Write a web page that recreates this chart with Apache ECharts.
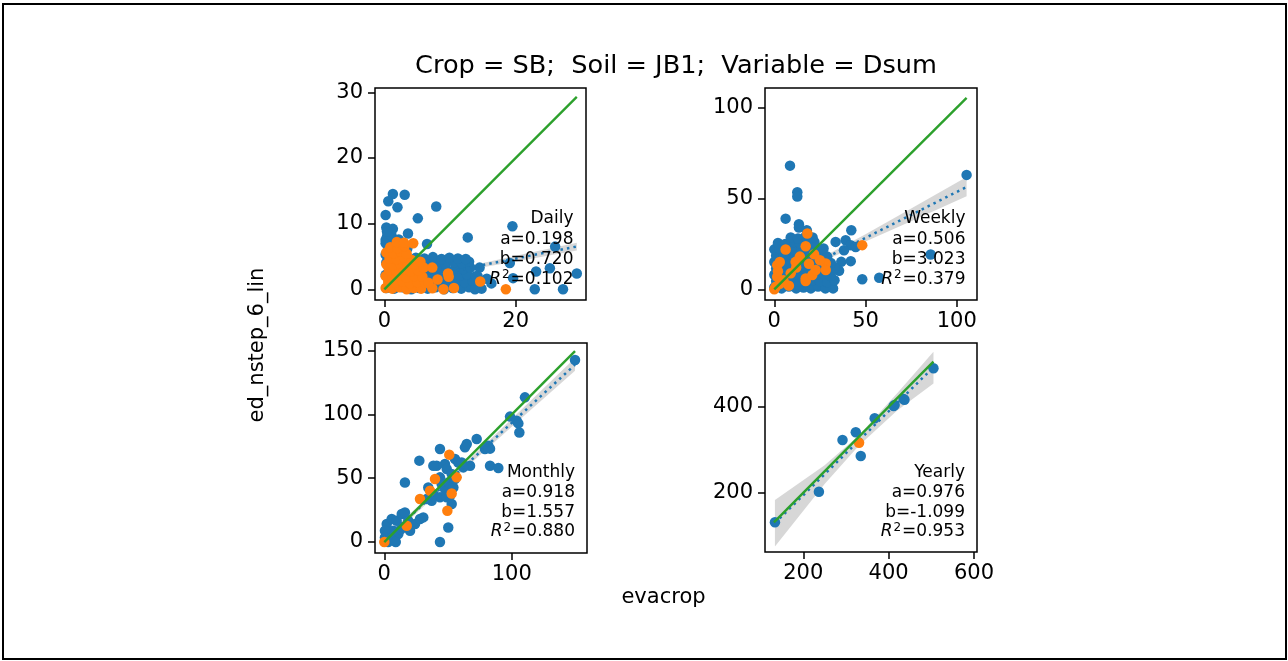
<!DOCTYPE html>
<html>
<head>
<meta charset="utf-8">
<script src="https://cdn.jsdelivr.net/npm/echarts@6/dist/echarts.min.js"></script>
<style>html,body{margin:0;padding:0;background:#fff;}#c{width:1288px;height:661px;}</style>
</head>
<body>
<div id="c"></div>
<script>
// ---------------- DATA ----------------
const panelNames = ['Daily', 'Weekly', 'Monthly', 'Yearly'];
const fitA = [0.198, 0.506, 0.918, 0.976];
const fitB = [0.720, 3.023, 1.557, -1.099];
const fitR2 = [0.102, 0.379, 0.880, 0.953];

const xTicks = [[0, 20], [0, 50, 100], [0, 100], [200, 400, 600]];
const yTicks = [[0, 10, 20, 30], [0, 50, 100], [0, 50, 100, 150], [200, 400]];

const dailyBlue = [
  [1.3,14.5],[3.1,14.4],[0.6,13.4],[2.0,12.5],[7.9,12.6],[0.2,11.3],[5.1,10.8],[0.3,9.4],[1.3,9.2],[3.6,8.5],
  [19.5,9.6],[12.7,7.9],[26.0,6.5],[19.1,4.0],[23.1,2.7],[25.2,3.2],[29.3,2.4],[27.2,0.0],[22.9,0.0],[19.6,1.7],
  [16.3,0.9],[14.8,0.1],[15.6,1.6],[6.5,6.9],[0.4,8.0],[0.2,7.0],[1.0,7.8],[14.5,3.3],[14.2,2.0],
  [0.3,0.2],[1.5,0.1],[2.8,0.3],[4.1,0.0],[5.3,0.2],[6.6,0.1],[7.8,0.3],[9.1,0.0],[10.4,0.2],[11.7,0.1],[12.9,0.3],[13.8,0.0],
  [0.8,1.2],[2.1,1.1],[3.3,1.3],[4.6,1.0],[5.9,1.2],[7.2,1.1],[8.5,1.3],[9.7,1.0],[11.0,1.2],[12.2,1.1],[13.4,1.3],
  [0.2,2.2],[1.4,2.1],[2.7,2.3],[4.0,2.0],[5.2,2.2],[6.4,2.1],[7.7,2.3],[8.9,2.0],[10.2,2.2],[11.5,2.1],[12.6,2.3],[13.9,2.0],
  [0.7,3.2],[2.0,3.1],[3.2,3.3],[4.5,3.0],[5.8,3.2],[7.0,3.1],[8.3,3.3],[9.5,3.0],[10.8,3.2],[12.0,3.1],[13.1,3.3],
  [0.3,4.1],[1.6,4.0],[2.8,4.2],[4.2,3.9],[5.5,4.1],[6.8,4.0],[8.0,4.2],[9.3,3.9],[10.6,4.1],[11.8,4.0],[12.9,4.2],
  [4.8,4.8],[6.1,4.7],[7.4,4.9],[8.7,4.6],[9.9,4.8],[11.2,4.7],[12.4,4.6],
  [0.2,5.3],[1.3,5.8],[0.6,6.4],[1.8,6.9],[0.2,7.5],[1.1,8.2],[0.4,8.8],[2.6,5.6],[3.5,6.2],[2.2,7.6]
];
const dailyOrange = [
  [0.2,0.2],[1.2,0.1],[2.3,0.3],[3.4,0.0],[4.5,0.2],[5.6,0.1],
  [0.6,1.1],[1.7,1.0],[2.8,1.2],[3.9,0.9],[5.0,1.1],[6.2,1.0],
  [0.2,2.0],[1.2,1.9],[2.3,2.1],[3.4,1.8],[4.6,2.0],[5.8,1.9],
  [0.7,2.9],[1.8,2.8],[2.9,3.0],[4.0,2.7],[5.1,2.9],
  [0.3,3.8],[1.3,3.7],[2.4,3.9],[3.5,3.6],[4.6,3.8],
  [0.8,4.7],[1.9,4.6],[3.0,4.8],[4.1,4.5],
  [0.3,5.6],[1.4,5.5],[2.5,5.7],[3.4,5.4],
  [0.9,6.4],[2.0,6.3],[3.1,6.6],
  [1.9,7.2],[4.4,7.0],[3.0,7.1],
  [6.0,3.3],[7.3,3.3],[8.1,1.5],[9.8,1.9],[9.7,2.4],[7.3,0.15],[9.0,0.0],[10.6,0.2],[6.7,1.0],[14.6,1.2],[18.5,0.0],[5.5,4.2]
];

const weeklyBlue = [
  [8.6,68.1],[12.6,53.5],[12.6,51.1],[6.2,38.9],[13.5,35.8],[13.5,34.0],[17.8,32.5],[42.2,32.5],[105.4,63.0],
  [33.6,26.1],[39.1,27.0],[41.9,24.3],[38.2,21.5],[44.6,23.3],[36.7,15.1],[41.9,15.5],[35.5,10.2],[32.2,0.5],
  [48.2,5.5],[57.5,6.4],[85.7,19.2],
  [0,1],[4,0.5],[8,1.5],[12,0.5],[16,1],[20,0.5],[24,1.5],[28,0.5],
  [1,4.5],[5,4],[9,5],[13,4.5],[17,4],[21,5],[25,4.5],[29,4],[33,5],
  [0,8],[3,8.5],[7,7.5],[11,8],[15,8.5],[19,7.5],[23,8],[27,8.5],[31,7.5],
  [1,11.5],[5,11],[9,12],[13,11.5],[17,11],[21,12],[25,11.5],[29,11],[33,12],
  [0,15],[3,15.5],[7,14.5],[11,15],[15,15.5],[19,14.5],[23,15],[27,15.5],[31,14.5],
  [1,18.5],[5,18],[9,19],[13,18.5],[17,18],[21,19],[25,18.5],[29,18],
  [0,22],[3,22.5],[7,21.5],[11,22],[15,22.5],[19,21.5],[23,22],[27,22.5],
  [2,25.5],[6,25],[10,26],[14,25.5],[18,25],[22,26],
  [9,28.5],[13,28],[17,29],[21,28.5]
];
const weeklyOrange = [
  [48.2,24.3],[18.1,30.7],[6.2,21.9],[17.2,23.7],[21.8,19.3],[28.2,14.2],[28.2,10.6],[17.2,6.0],[17.2,4.5],
  [11.7,15.1],[9.0,8.8],[1.6,13.3],[1.6,6.9],[0.8,1.4],[20.8,7.8],[22.7,10.6],[0,0],[3,3],[2,10],[12,12],
  [5,5],[19,14],[14,18],[8,2],[25,16],[3,15]
];

const monthlyBlue = [
  [1.9,14.1],[5.8,18.0],[9.7,16.7],[13.7,22.0],[16.2,23.2],[18.8,16.7],[20.2,8.9],[24.1,14.1],[28.0,18.0],[30.6,19.3],
  [4.5,3.6],[7.1,8.9],[11.0,6.3],[0.5,8.9],[0.5,3.6],[3.0,0.0],[1,1],[6,2],[9,0],[13,10],[15,12],
  [34.5,42.8],[38.5,37.6],[43.7,50.7],[45.0,45.5],[47.6,61.2],[49.0,57.2],[47.6,41.6],[50.2,46.7],[52.9,53.3],
  [54.2,42.8],[55.5,65.1],[58.1,62.4],[60.8,62.4],[55.5,49.4],[43.7,35.0],[49.0,35.0],[51.6,36.3],[52.9,29.8],
  [37.2,32.4],[33.3,33.7],[41.1,59.8],
  [64.7,76.8],[63.3,74.2],[72.5,80.8],[67.3,59.8],[62.0,58.5],[81.6,75.5],[83.0,73.2],[79.0,72.9],[83.0,59.8],
  [89.5,58.0],[43.7,72.9],[27.5,63.8],[38.5,59.8],[16.2,46.7],[43.7,0.0],[50.2,11.4],
  [98.7,98.3],[103.9,95.1],[105.2,93.0],[106.0,85.9],[110.4,113.4],[149.7,142.7]
];
const monthlyOrange = [
  [51.0,68.5],[39.8,49.4],[56.8,50.7],[35.9,40.2],[28.0,33.7],[52.9,38.1],[49.5,24.5],[17.6,12.8],[0.0,0.0]
];

const yearlyBlue = [
  [133.6,131.2],[236.6,202.3],[291.9,322.6],[323.0,340.5],[334.7,285.3],[367.3,373.0],[411.7,401.6],[414.0,404.0],
  [435.0,418.0],[437.0,416.0],[505.0,489.3]
];
const yearlyOrange = [[330.7,316.3]];

// confidence band of the fit
const bandX  = [[0, 10, 20, 29.3], [0, 25, 50, 75, 105.4], [0, 50, 100, 149.7], [133.6, 250, 330, 420, 505]];
const bandLo = [[0.4, 2.5, 4.25, 5.9], [1.5, 14.5, 26.3, 37.5, 51.3], [-1.0, 45.7, 90.4, 134.3], [75, 220, 309, 391, 454]];
const bandHi = [[1.0, 2.9, 5.1, 7.1], [4.5, 16.9, 30.3, 44.5, 61.9], [4.1, 49.3, 96.4, 144.3], [183, 264, 333, 431, 528]];

// axis limits
const xMin = [-1.42, -5.1, -7.3, 110.3];
const xMax = [30.7, 111.1, 159.1, 607];
const yMin = [-1.63, -5.9, -8.6, 62.1];
const yMax = [30.65, 110.85, 156.0, 548.1];

// ---------------- LAYOUT ----------------
const grids = [
  {left: 375, top: 88, width: 211, height: 212},
  {left: 765, top: 88, width: 212, height: 212},
  {left: 375, top: 343, width: 212, height: 210},
  {left: 765, top: 343, width: 212, height: 209}
];
const annotRight = [573.5, 965.5, 575, 965];
const annotY = [[219, 239.5, 260, 279.5], [219, 239.5, 260, 279.5], [473, 493, 512.5, 532], [473, 493, 512.5, 532]];

const FONT = 'DejaVu Sans';
const BLUE = '#1f77b4', ORANGE = '#ff7f0e', GREEN = '#2ca02c';
const DOT = 10.5;
const blues = [dailyBlue, weeklyBlue, monthlyBlue, yearlyBlue];
const oranges = [dailyOrange, weeklyOrange, monthlyOrange, yearlyOrange];

const option = {
  animation: false,
  backgroundColor: '#fff',
  grid: grids.map(g => Object.assign({show: true, borderColor: '#000', borderWidth: 1.5, backgroundColor: '#fff'}, g)),
  xAxis: [], yAxis: [], series: [], graphic: []
};

for (let i = 0; i < 4; i++) {
  const axCommon = {
    type: 'value', gridIndex: i, splitLine: {show: false},
    axisLine: {show: false, onZero: false},
    axisTick: {show: true, inside: false, length: 7, lineStyle: {color: '#000', width: 1.5}},
    axisLabel: {color: '#000', fontFamily: FONT, fontSize: 21, margin: 11}
  };
  option.xAxis.push(Object.assign({}, axCommon, {
    position: 'bottom',
    min: xMin[i], max: xMax[i],
    axisTick: Object.assign({}, axCommon.axisTick, {customValues: xTicks[i]}),
    axisLabel: Object.assign({}, axCommon.axisLabel, {customValues: xTicks[i]})
  }));
  option.yAxis.push(Object.assign({}, axCommon, {
    position: 'left',
    min: yMin[i], max: yMax[i],
    axisTick: Object.assign({}, axCommon.axisTick, {customValues: yTicks[i]}),
    axisLabel: Object.assign({}, axCommon.axisLabel, {customValues: yTicks[i], margin: 12})
  }));

  const all = blues[i].concat(oranges[i]);
  const xs = all.map(p => p[0]);
  const allv = all.reduce((acc, p) => acc.concat(p), []);
  const lo = Math.min.apply(null, allv), hi = Math.max.apply(null, allv);
  const fx0 = Math.min.apply(null, xs), fx1 = Math.max.apply(null, xs);

  const bx = bandX[i], bl = bandLo[i], bh = bandHi[i];
  option.series.push({
    type: 'custom', xAxisIndex: i, yAxisIndex: i, z: 1, silent: true,
    data: bx.map((x, k) => [x, bl[k], bh[k]]),
    encode: {x: 0, y: [1, 2]},
    renderItem: function (params, api) {
      if (params.dataIndex !== 0) return null;
      const pts = [];
      for (let k = 0; k < bx.length; k++) pts.push(api.coord([bx[k], bh[k]]));
      for (let k = bx.length - 1; k >= 0; k--) pts.push(api.coord([bx[k], bl[k]]));
      return {type: 'polygon', shape: {points: pts}, style: {fill: 'rgba(150,150,150,0.38)'}};
    }
  });
  option.series.push({
    type: 'scatter', xAxisIndex: i, yAxisIndex: i, z: 2, symbolSize: DOT,
    itemStyle: {color: BLUE, opacity: 1}, data: blues[i]
  });
  option.series.push({
    type: 'line', xAxisIndex: i, yAxisIndex: i, z: 3, symbol: 'none',
    lineStyle: {color: BLUE, width: 2.5, type: [2.5, 4.1], cap: 'butt'},
    data: [[fx0, fitA[i] * fx0 + fitB[i]], [fx1, fitA[i] * fx1 + fitB[i]]]
  });
  option.series.push({
    type: 'scatter', xAxisIndex: i, yAxisIndex: i, z: 4, symbolSize: DOT,
    itemStyle: {color: ORANGE, opacity: 1}, data: oranges[i]
  });
  option.series.push({
    type: 'line', xAxisIndex: i, yAxisIndex: i, z: 5, symbol: 'none',
    lineStyle: {color: GREEN, width: 2.4},
    data: [[lo, lo], [hi, hi]]
  });

  const lines = [panelNames[i], 'a=' + fitA[i].toFixed(3), 'b=' + fitB[i].toFixed(3)];
  lines.forEach((t, k) => {
    option.graphic.push({
      type: 'text', x: annotRight[i], y: annotY[i][k], z: 100,
      style: {text: t, fill: '#000', font: '17px "DejaVu Sans"', textAlign: 'right', textVerticalAlign: 'middle'}
    });
  });
  option.graphic.push({
    type: 'text', x: annotRight[i], y: annotY[i][3], z: 100,
    style: {
      text: '{i|R}{s|2}{n|=' + fitR2[i].toFixed(3) + '}',
      textAlign: 'right', textVerticalAlign: 'middle',
      rich: {
        i: {fontFamily: FONT, fontSize: 17, fontStyle: 'italic', fill: '#000'},
        s: {fontFamily: FONT, fontSize: 12, fill: '#000', padding: [0, 1, 9, 1]},
        n: {fontFamily: FONT, fontSize: 17, fill: '#000'}
      }
    }
  });
}

option.graphic.push(
  {type: 'rect', z: 200, shape: {x: 3, y: 4, width: 1283, height: 655},
   style: {fill: 'none', stroke: '#000', lineWidth: 2}},
  {type: 'text', x: 676, y: 66, z: 100,
   style: {text: 'Crop = SB;  Soil = JB1;  Variable = Dsum', fill: '#000', font: '25.6px "DejaVu Sans"',
           textAlign: 'center', textVerticalAlign: 'middle'}},
  {type: 'text', x: 663.5, y: 598, z: 100,
   style: {text: 'evacrop', fill: '#000', font: '21px "DejaVu Sans"', textAlign: 'center', textVerticalAlign: 'middle'}},
  {type: 'text', x: 258, y: 345, rotation: Math.PI / 2, z: 100,
   style: {text: 'ed_nstep_6_lin', fill: '#000', font: '21px "DejaVu Sans"', textAlign: 'center', textVerticalAlign: 'middle'}}
);

const chart = echarts.init(document.getElementById('c'), null, {renderer: 'canvas'});
chart.setOption(option);
</script>
</body>
</html>
